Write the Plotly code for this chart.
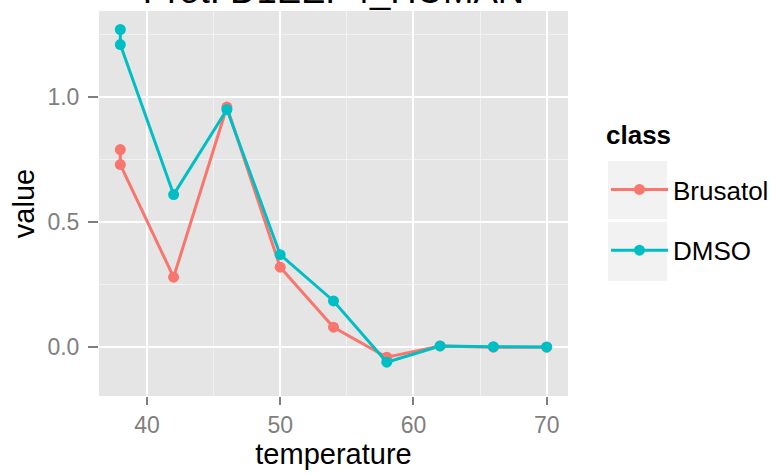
import plotly.graph_objects as go

# ---- data ----
temperature = [38, 38, 42, 46, 50, 54, 58, 62, 66, 70]
brusatol = [0.79, 0.73, 0.28, 0.96, 0.32, 0.08, -0.04, 0.005, 0.0, 0.0]
dmso = [1.27, 1.21, 0.61, 0.95, 0.37, 0.185, -0.06, 0.005, 0.002, 0.001]
series_names = ["Brusatol", "DMSO"]
series_colors = ["#F8766D", "#00BFC4"]
title_text = "Prot: D1EEP4_HUMAN"
legend_title = "class"

W, H = 777, 475
L, R, T, B = 99, 209, 11, 79
pw, ph = W - L - R, H - T - B

def px(x):
    return (x - L) / pw

def py(y):
    return (H - B - y) / ph

FONT = "Liberation Sans, Arial, sans-serif"

fig = go.Figure()
for i, (name, vals, col) in enumerate(zip(series_names, [brusatol, dmso], series_colors)):
    fig.add_trace(go.Scatter(
        x=temperature, y=vals, name=name, mode="lines+markers",
        line=dict(color=col, width=3),
        marker=dict(color=col, size=11),
        legendgroup=name,
    ))

shapes = []
for y0, y1 in [(161, 219), (222, 281)]:
    shapes.append(dict(type="rect", xref="paper", yref="paper",
                       x0=px(608), x1=px(667), y0=py(y1), y1=py(y0),
                       fillcolor="#F2F2F2", line=dict(width=0), layer="below"))

annotations = [dict(text="<b>" + legend_title + "</b>", xref="paper", yref="paper",
                    x=px(604), y=py(135), xanchor="left", yanchor="middle",
                    showarrow=False, font=dict(size=26, color="black"))]

fig.update_layout(
    width=W, height=H,
    margin=dict(l=L, r=R, t=T, b=B, autoexpand=False),
    paper_bgcolor="white", plot_bgcolor="#E5E5E5",
    font=dict(family=FONT, size=23, color="black"),
    title=dict(text=title_text, x=(L + pw / 2) / W, xanchor="center",
               xref="container", yref="container", y=1 - 3 / H, yanchor="bottom",
               font=dict(size=36.5, color="black")),
    showlegend=True,
    legend=dict(
        xref="container", yref="container",
        x=606 / W, y=1 - 166 / H, xanchor="left", yanchor="top",
        font=dict(size=26), bgcolor="rgba(0,0,0,0)",
        tracegroupgap=24, traceorder="grouped", itemwidth=57,
    ),
    shapes=shapes,
    annotations=annotations,
)
fig.update_xaxes(
    range=[36.4, 71.6], dtick=10, tick0=40, showgrid=True, gridcolor="white", gridwidth=2,
    zeroline=False, ticks="outside", ticklen=8, tickwidth=2, tickcolor="#7F7F7F",
    tickfont=dict(size=23, color="#7F7F7F"), automargin=False,
    minor=dict(dtick=5, tick0=35, showgrid=True, gridcolor="#F2F2F2", gridwidth=1),
    title=dict(text="temperature", font=dict(size=29), standoff=6),
)
fig.update_yaxes(
    range=[-0.195, 1.344], dtick=0.5, tick0=0, tickformat=".1f", showgrid=True, gridcolor="white",
    gridwidth=2, zeroline=False, ticks="outside", ticklen=10, tickwidth=2, tickcolor="#7F7F7F",
    tickfont=dict(size=23, color="#7F7F7F"), automargin=False, ticklabelstandoff=4,
    minor=dict(dtick=0.25, tick0=0.25, showgrid=True, gridcolor="#F2F2F2", gridwidth=1),
    title=dict(text="value", font=dict(size=29), standoff=4),
)
fig.write_html("out.html", config={"displayModeBar": False},
               post_script="document.body.style.margin='0px';")
